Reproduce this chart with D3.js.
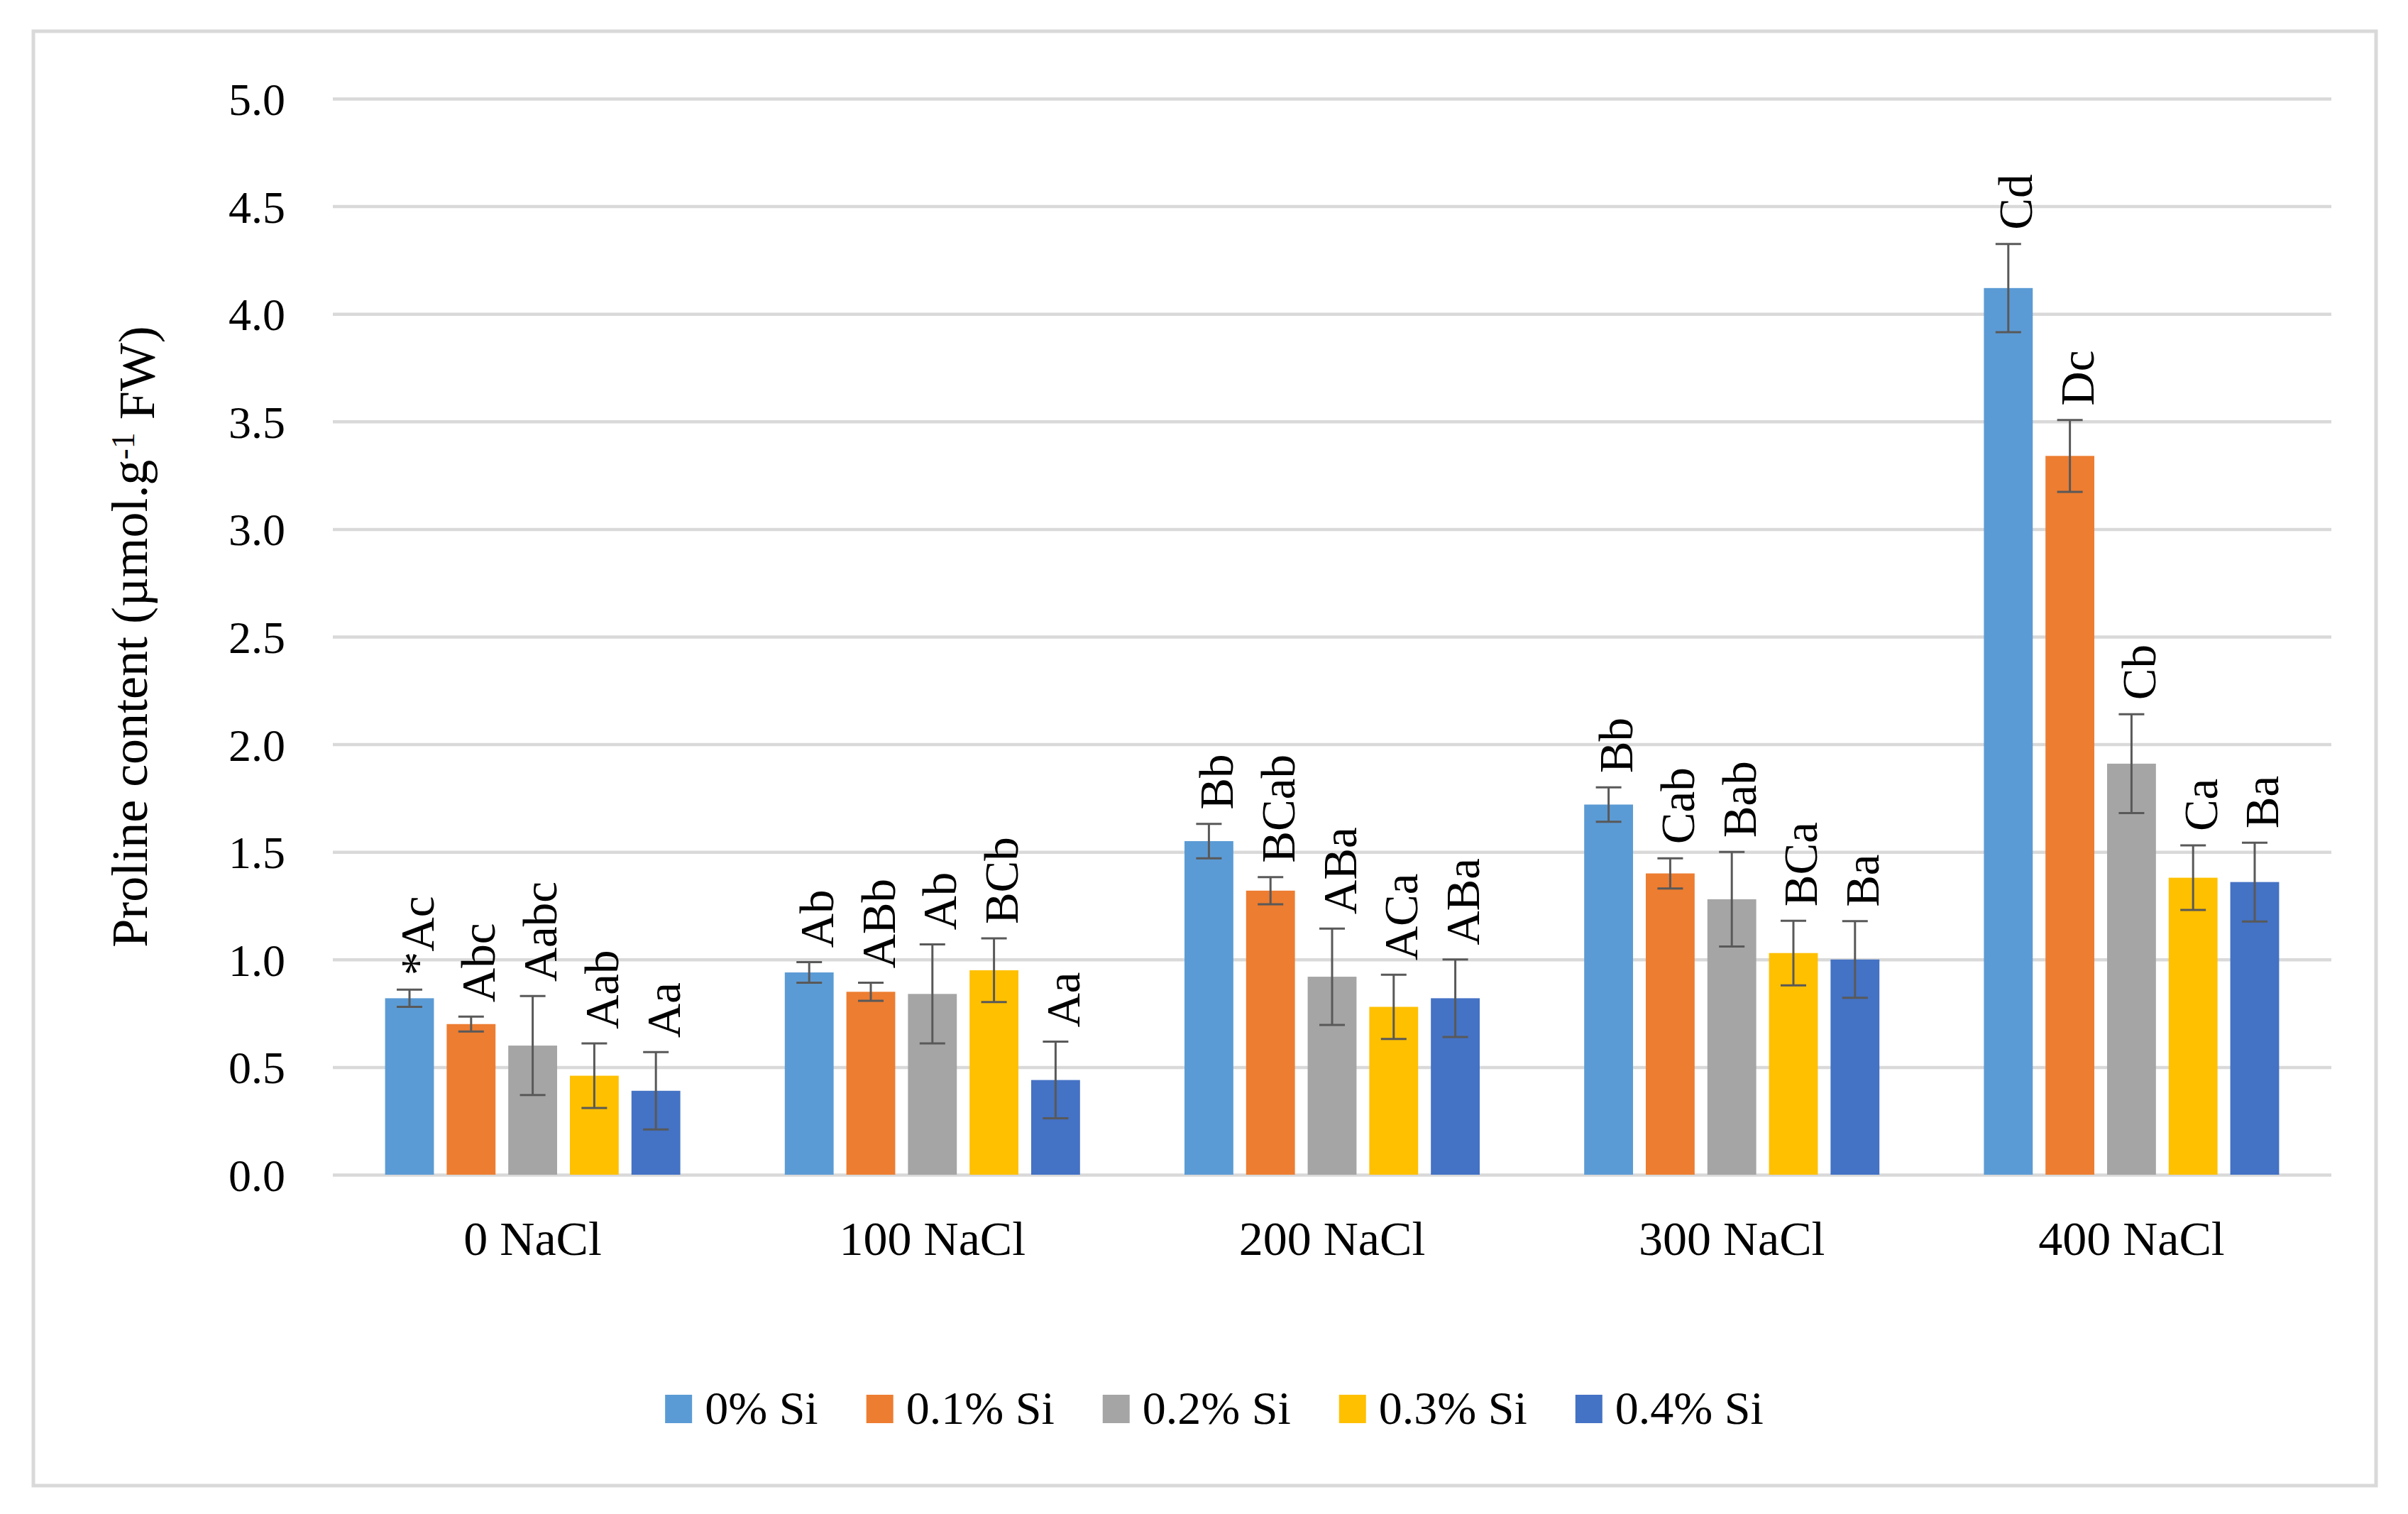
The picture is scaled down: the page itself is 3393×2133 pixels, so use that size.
<!DOCTYPE html>
<html>
<head>
<meta charset="utf-8">
<script src="https://cdn.jsdelivr.net/npm/d3@7"></script>
<style>
  html, body { margin: 0; padding: 0; background: #fff; }
  svg { display: block; }
  text { font-family: "Liberation Serif", "Times New Roman", serif; fill: #000; }
</style>
</head>
<body>
<script>
// ---- data ----
const categories = ["0 NaCl", "100 NaCl", "200 NaCl", "300 NaCl", "400 NaCl"];
const seriesNames = ["0% Si", "0.1% Si", "0.2% Si", "0.3% Si", "0.4% Si"];
const seriesColors = ["#5B9BD5", "#ED7D31", "#A5A5A5", "#FFC000", "#4472C4"];

const si0Values = [0.82, 0.94, 1.55, 1.72, 4.12];
const si01Values = [0.70, 0.85, 1.32, 1.40, 3.34];
const si02Values = [0.60, 0.84, 0.92, 1.28, 1.91];
const si03Values = [0.46, 0.95, 0.78, 1.03, 1.38];
const si04Values = [0.39, 0.44, 0.82, 1.00, 1.36];

const si0Errors = [0.04, 0.048, 0.08, 0.08, 0.205];
const si01Errors = [0.035, 0.042, 0.063, 0.07, 0.167];
const si02Errors = [0.23, 0.23, 0.224, 0.22, 0.23];
const si03Errors = [0.15, 0.148, 0.149, 0.15, 0.15];
const si04Errors = [0.18, 0.178, 0.18, 0.178, 0.183];

const si0Labels = ["*Ac", "Ab", "Bb", "Bb", "Cd"];
const si01Labels = ["Abc", "ABb", "BCab", "Cab", "Dc"];
const si02Labels = ["Aabc", "Ab", "ABa", "Bab", "Cb"];
const si03Labels = ["Aab", "BCb", "ACa", "BCa", "Ca"];
const si04Labels = ["Aa", "Aa", "ABa", "Ba", "Ba"];

const yTicks = [0, 0.5, 1.0, 1.5, 2.0, 2.5, 3.0, 3.5, 4.0, 4.5, 5.0];

const valuesBySeries = [si0Values, si01Values, si02Values, si03Values, si04Values];
const errorsBySeries = [si0Errors, si01Errors, si02Errors, si03Errors, si04Errors];
const labelsBySeries = [si0Labels, si01Labels, si02Labels, si03Labels, si04Labels];

// ---- layout ----
const W = 3393, H = 2133;
const plot = { left: 469, right: 3285, top: 139, bottom: 1655 };

const svg = d3.select("body").append("svg").attr("width", W).attr("height", H);
svg.append("rect").attr("width", W).attr("height", H).attr("fill", "#fff");

// outer border
svg.append("rect")
  .attr("x", 47).attr("y", 44).attr("width", 3348 - 47).attr("height", 2093 - 44)
  .attr("fill", "none").attr("stroke", "#D9D9D9").attr("stroke-width", 5);

const x0 = d3.scaleBand().domain(categories).range([plot.left, plot.right]).padding(0);
const groupWidth = 416;
const x1 = d3.scaleBand().domain(seriesNames).range([0, groupWidth]).paddingInner(0.207).paddingOuter(0);
const y = d3.scaleLinear().domain([0, 5]).range([plot.bottom, plot.top]);

// gridlines
const yAxis = d3.axisLeft(y).tickValues(yTicks).tickFormat(d3.format(".1f"))
  .tickSize(-(plot.right - plot.left)).tickPadding(0);
const gy = svg.append("g").attr("transform", `translate(${plot.left},0)`).call(yAxis);
gy.select(".domain").remove();
gy.selectAll(".tick line").attr("stroke", "#D9D9D9").attr("stroke-width", 4.5);
gy.selectAll(".tick text")
  .attr("x", -67).attr("dy", "0.35em")
  .style("font-size", "64px").attr("text-anchor", "end").attr("fill", "#000");

// x axis labels
const xAxis = d3.axisBottom(x0).tickSize(0).tickPadding(0);
const gx = svg.append("g").attr("transform", `translate(0,${plot.bottom})`).call(xAxis);
gx.select(".domain").remove();
gx.selectAll(".tick text").attr("y", 113).attr("dy", 0)
  .style("font-size", "68px").attr("fill", "#000");

// bars
const rows = [];
categories.forEach((c, ci) => {
  seriesNames.forEach((s, si) => {
    rows.push({
      cat: c, ser: s, si,
      v: valuesBySeries[si][ci],
      e: errorsBySeries[si][ci],
      lab: labelsBySeries[si][ci]
    });
  });
});

const gBars = svg.append("g");
const xPos = d => x0(d.cat) + (x0.bandwidth() - groupWidth) / 2 + x1(d.ser);

gBars.selectAll("rect.bar").data(rows).enter().append("rect")
  .attr("class", "bar")
  .attr("x", d => xPos(d))
  .attr("width", x1.bandwidth())
  .attr("y", d => y(d.v))
  .attr("height", d => y(0) - y(d.v))
  .attr("fill", d => seriesColors[d.si]);

// error bars
const cap = 18;
const gErr = svg.append("g").attr("stroke", "#595959").attr("stroke-width", 3);
rows.forEach(d => {
  const cx = xPos(d) + x1.bandwidth() / 2;
  const yt = y(d.v + d.e), yb = y(d.v - d.e);
  gErr.append("line").attr("x1", cx).attr("x2", cx).attr("y1", yt).attr("y2", yb);
  gErr.append("line").attr("x1", cx - cap).attr("x2", cx + cap).attr("y1", yt).attr("y2", yt);
  gErr.append("line").attr("x1", cx - cap).attr("x2", cx + cap).attr("y1", yb).attr("y2", yb);
});

// bar labels (rotated)
svg.append("g").selectAll("text").data(rows).enter().append("text")
  .attr("transform", d => {
    const cx = xPos(d) + x1.bandwidth() / 2;
    const yy = y(d.v + d.e) - 20;
    return `translate(${cx},${yy}) rotate(-90)`;
  })
  .attr("dy", "0.5em")
  .attr("text-anchor", "start")
  .style("font-size", "67px")
  .text(d => d.lab);

// y axis title
const title = svg.append("text")
  .attr("transform", `translate(207,${(plot.top + plot.bottom) / 2}) rotate(-90)`)
  .attr("text-anchor", "middle")
  .style("font-size", "72px");
title.append("tspan").text("Proline content (µmol.g");
title.append("tspan").attr("dy", "-0.4em").style("font-size", "46px").text("-1");
title.append("tspan").attr("dy", "0.4em").text(" FW)");

// legend
const legend = svg.append("g");
const legendBaseline = 2006;
let lx = 0;
const items = [];
seriesNames.forEach((s, i) => {
  const g = legend.append("g");
  g.append("rect").attr("x", 0).attr("y", legendBaseline - 41).attr("width", 38).attr("height", 40)
    .attr("fill", seriesColors[i]);
  const t = g.append("text").attr("x", 56).attr("y", legendBaseline)
    .style("font-size", "66px").text(s);
  items.push({ g, w: 56 + t.node().getComputedTextLength() });
});
const gapItems = 68;
const totalW = d3.sum(items, d => d.w) + gapItems * (items.length - 1);
lx = 1711 - totalW / 2;
items.forEach(it => {
  it.g.attr("transform", `translate(${lx},0)`);
  lx += it.w + gapItems;
});
</script>
</body>
</html>
